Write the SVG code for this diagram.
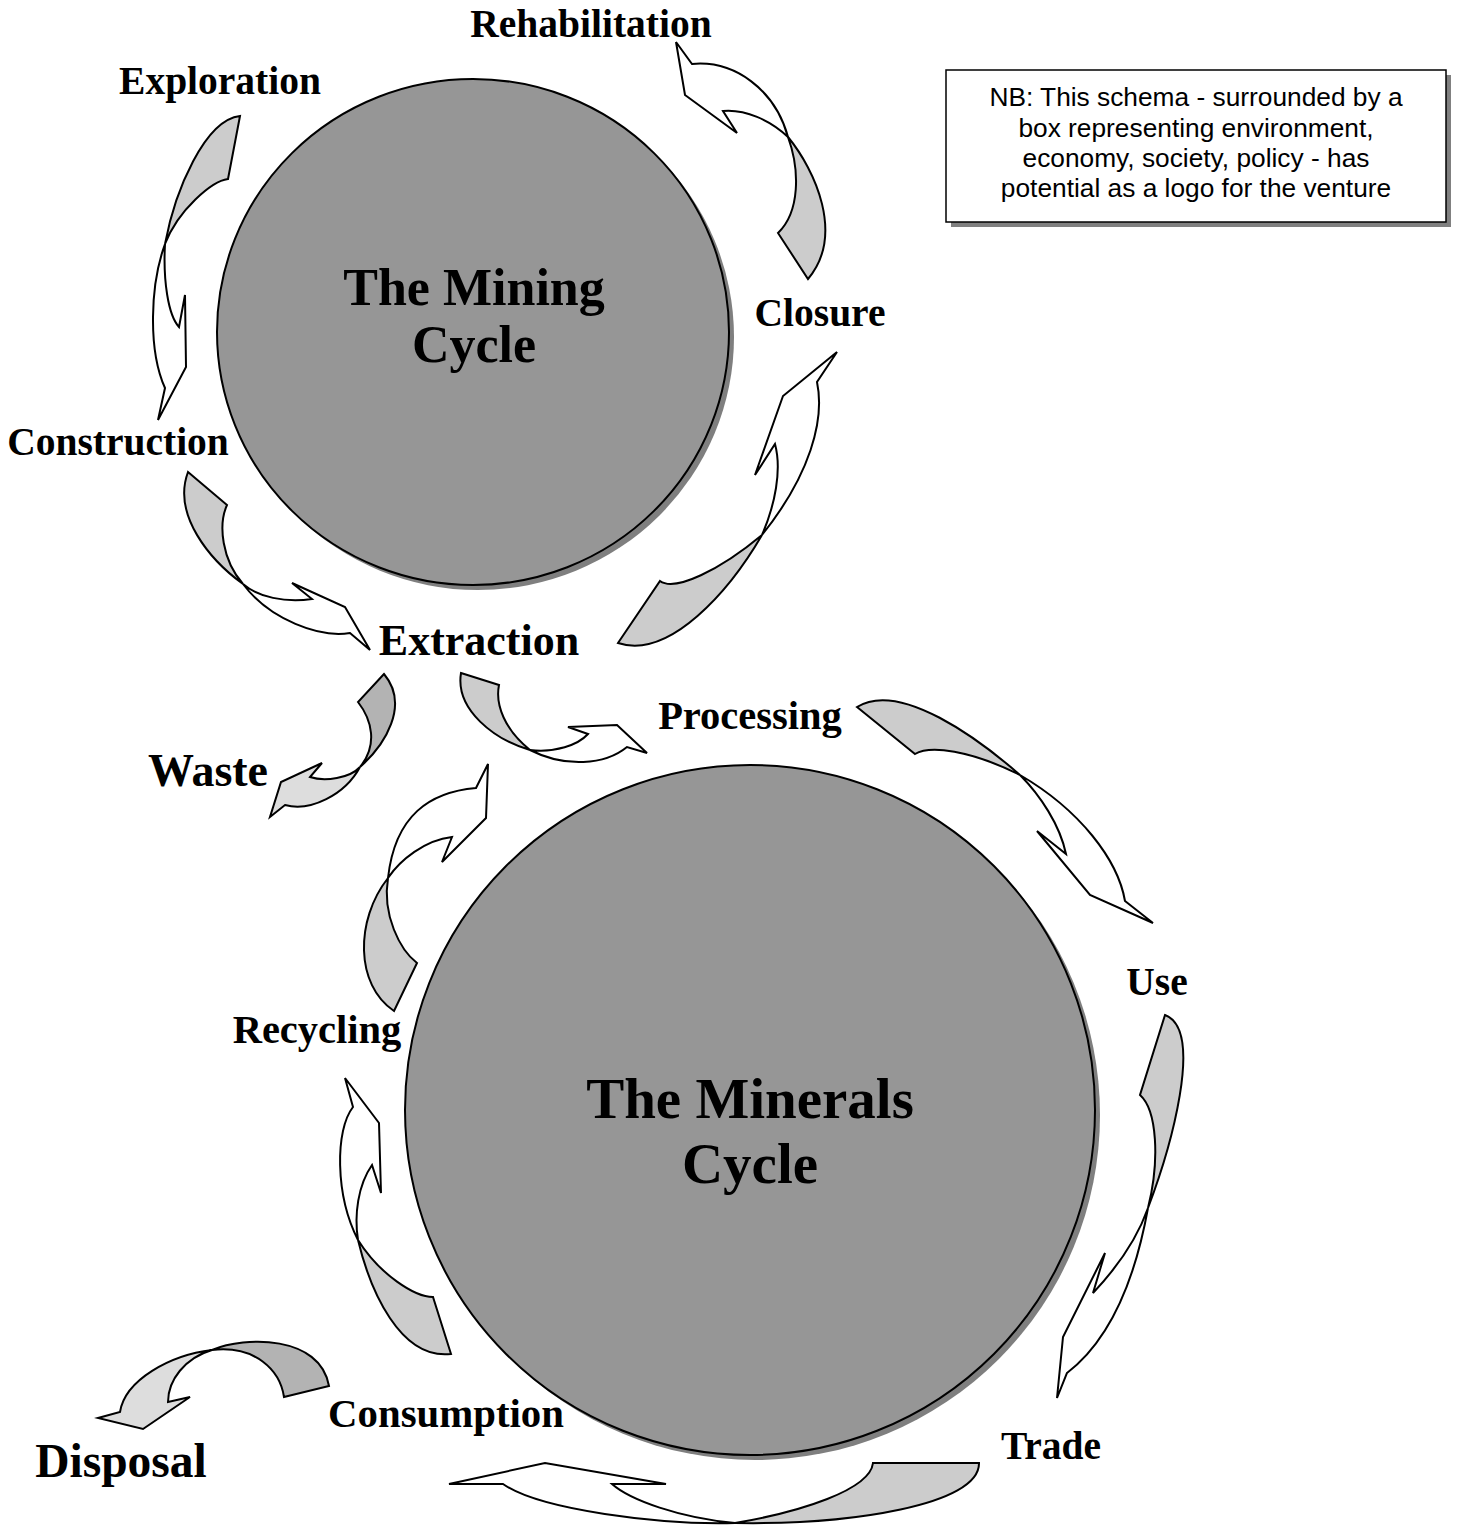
<svg xmlns="http://www.w3.org/2000/svg" width="1458" height="1526" viewBox="0 0 1458 1526">
<style>
.lbl{font-family:"Liberation Serif","Times New Roman",serif;font-weight:bold;font-size:39.5px;fill:#000;text-anchor:middle}
.big{font-size:46px}
.ttl{font-family:"Liberation Serif","Times New Roman",serif;font-weight:bold;fill:#000;text-anchor:middle}
.ar{stroke:#000;stroke-width:2;stroke-linejoin:miter}
.w{fill:#fff}
.g{fill:#cccccc}
.lg{fill:#dddddd}
.dg{fill:#b3b3b3}
.note{font-family:"Liberation Sans",Arial,sans-serif;font-size:26.3px;fill:#000;text-anchor:middle}
</style>
<rect width="1458" height="1526" fill="#fff"/>
<g id="mining-cycle">
<ellipse cx="478" cy="337" rx="256" ry="253" fill="#7f7f7f"/>
<ellipse cx="473" cy="332" rx="256" ry="253" fill="#969696" stroke="#000" stroke-width="2"/>
<text class="ttl" font-size="52" x="474" y="305">The Mining</text>
<text class="ttl" font-size="52" x="474" y="362">Cycle</text>
</g>
<g id="minerals-cycle">
<ellipse cx="755" cy="1115" rx="345" ry="345" fill="#7f7f7f"/>
<ellipse cx="750" cy="1110" rx="345" ry="345" fill="#969696" stroke="#000" stroke-width="2"/>
<text class="ttl" font-size="57" x="750" y="1118">The Minerals</text>
<text class="ttl" font-size="57" x="750" y="1183">Cycle</text>
</g>
<g id="note">
<rect x="951" y="75" width="500" height="152" fill="#808080"/>
<rect x="946" y="70" width="500" height="152" fill="#fff" stroke="#000" stroke-width="1.5"/>
<text class="note" x="1196" y="106">NB: This schema - surrounded by a</text>
<text class="note" x="1196" y="137">box representing environment,</text>
<text class="note" x="1196" y="167">economy, society, policy - has</text>
<text class="note" x="1196" y="197">potential as a logo for the venture</text>
</g>
<g id="labels">
<text class="lbl" x="591" y="37">Rehabilitation</text>
<text class="lbl" x="220" y="94">Exploration</text>
<text class="lbl" x="820" y="326">Closure</text>
<text class="lbl" x="118" y="455">Construction</text>
<text class="lbl" x="479" y="655" style="font-size:44px">Extraction</text>
<text class="lbl" x="750" y="729" style="font-size:40.5px">Processing</text>
<text class="lbl big" x="208" y="786">Waste</text>
<text class="lbl" x="1157" y="995">Use</text>
<text class="lbl" x="317" y="1043" style="font-size:40.5px">Recycling</text>
<text class="lbl" x="446" y="1427" style="font-size:40.8px">Consumption</text>
<text class="lbl" x="1051" y="1459">Trade</text>
<text class="lbl" x="121" y="1477" style="font-size:47.5px">Disposal</text>
</g>
<g id="connectors">
<g id="exploration-construction">
<path class="ar g" d="M240,116 L228,179 C212,181 178,210 165,244 C175,190 205,120 240,116 Z"/>
<path class="ar w" d="M165,244 C163,280 168,315 179,327 L185,295 L186,367 L158,420 L165,388 C148,350 150,285 165,244 Z"/>
</g>
<g id="rehabilitation-arrow">
<path class="ar w" d="M788,137 C775,90 735,60 692,64 L676,42 L685,95 L737,133 L723,111 C745,109 770,120 788,137 Z"/>
<path class="ar g" d="M788,137 C815,170 845,235 808,279 L778,233 C800,212 800,170 788,137 Z"/>
</g>
<g id="construction-extraction">
<path class="ar g" d="M188,472 L227,505 C218,525 222,560 243,584 C210,560 172,515 188,472 Z"/>
<path class="ar w" d="M243,584 C258,597 285,603 312,599 L292,583 L345,607 L370,650 L350,633 C320,638 270,620 243,584 Z"/>
</g>
<g id="extraction-closure">
<path class="ar g" d="M618,643 L660,581 C675,592 720,570 762,535 C730,590 670,660 618,643 Z"/>
<path class="ar w" d="M762,535 C775,505 782,470 775,444 L755,475 L783,396 L837,352 L817,382 C825,420 810,475 762,535 Z"/>
</g>
<g id="extraction-waste">
<path class="ar dg" d="M384,674 L358,702 C372,720 378,745 360,767 C385,745 410,705 384,674 Z"/>
<path class="ar lg" d="M360,767 C350,778 325,782 310,777 L322,763 L281,782 L270,817 L285,805 C310,812 345,795 360,767 Z"/>
</g>
<g id="extraction-processing">
<path class="ar g" d="M461,673 L499,685 C495,705 505,730 530,750 C495,740 455,710 461,673 Z"/>
<path class="ar w" d="M530,750 C555,753 578,745 588,734 L568,727 L617,725 L647,753 L627,747 C605,765 565,768 530,750 Z"/>
</g>
<g id="processing-use">
<path class="ar g" d="M857,707 L915,754 C930,745 970,750 1020,775 C980,740 900,680 857,707 Z"/>
<path class="ar w" d="M1020,775 C1040,795 1060,825 1066,854 L1037,831 L1090,895 L1153,923 L1125,901 C1118,860 1080,810 1020,775 Z"/>
</g>
<g id="use-trade">
<path class="ar g" d="M1165,1015 L1140,1095 C1157,1110 1160,1160 1148,1208 C1170,1150 1205,1030 1165,1015 Z"/>
<path class="ar w" d="M1148,1208 C1135,1245 1110,1275 1093,1293 L1105,1253 L1063,1337 L1057,1398 L1067,1373 C1110,1340 1135,1280 1148,1208 Z"/>
</g>
<g id="trade-consumption">
<path class="ar g" d="M735,1523 C800,1512 870,1490 873,1463 L979,1463 C980,1505 850,1525 735,1523 Z"/>
<path class="ar w" d="M735,1523 C660,1525 540,1510 503,1484 L449,1484 L545,1463 L666,1484 L612,1484 C630,1500 680,1518 735,1523 Z"/>
</g>
<g id="consumption-recycling">
<path class="ar g" d="M451,1354 L433,1297 C415,1297 380,1275 358,1240 C370,1290 400,1360 451,1354 Z"/>
<path class="ar w" d="M358,1240 C354,1215 358,1185 372,1165 L381,1193 L379,1123 L345,1078 L353,1107 C335,1130 335,1195 358,1240 Z"/>
</g>
<g id="recycling-extraction">
<path class="ar g" d="M394,1011 L417,963 C400,950 382,915 388,878 C355,920 355,985 394,1011 Z"/>
<path class="ar w" d="M388,878 C400,860 425,840 452,837 L442,862 L486,818 L488,764 L476,788 C430,792 395,815 388,878 Z"/>
</g>
<g id="consumption-disposal">
<path class="ar dg" d="M212,1350 C245,1336 320,1335 329,1386 L284,1397 C280,1370 255,1345 212,1350 Z"/>
<path class="ar lg" d="M212,1350 C170,1355 125,1380 120,1412 L98,1418 L143,1429 L190,1397 L168,1402 C168,1380 185,1358 212,1350 Z"/>
</g>
</g>
</svg>
